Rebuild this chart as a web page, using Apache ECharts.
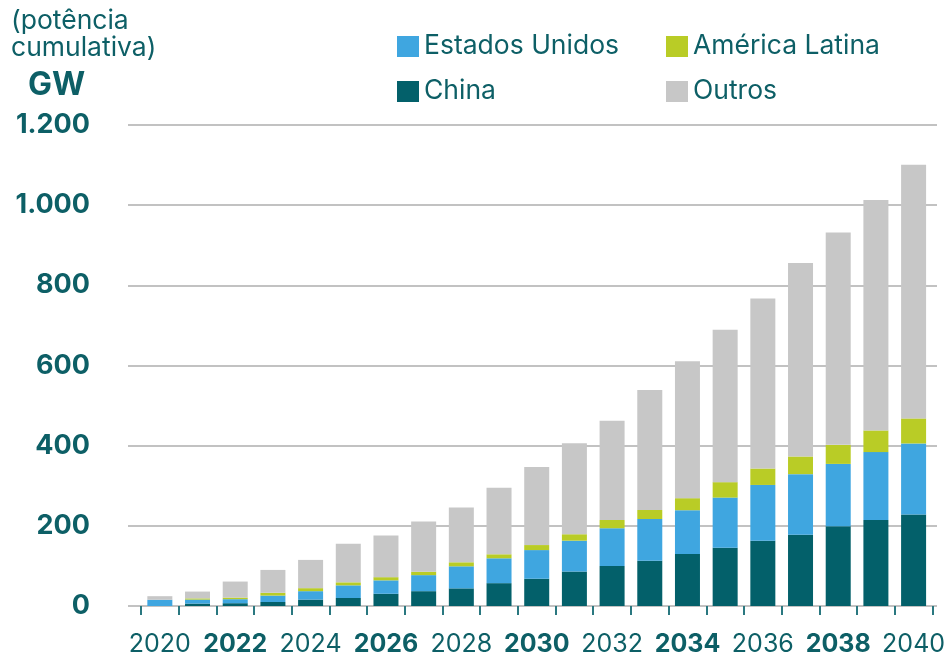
<!DOCTYPE html>
<html>
<head>
<meta charset="utf-8">
<script src="https://cdn.jsdelivr.net/npm/echarts@6/dist/echarts.min.js"></script>
<style>
  html, body { margin: 0; padding: 0; background: #fff; }
  #chart { width: 948px; height: 658px; }
</style>
</head>
<body>
<div id="chart"></div>
<script>
// Offshore wind capacity, cumulative GW, by region
const years = ['2020','2021','2022','2023','2024','2025','2026','2027','2028','2029','2030',
               '2031','2032','2033','2034','2035','2036','2037','2038','2039','2040'];
const china   = [0, 6, 7, 10, 16, 20, 30.5, 37, 44, 57, 68, 86, 99.5, 113, 129.5, 145.5, 163, 178, 199, 214.5, 228];
const eua     = [15.5, 10, 10, 16, 21, 31.5, 33.5, 40, 55, 62, 71.5, 77, 94.5, 104, 109.5, 125, 139, 151, 155.5, 169.5, 177.5];
const latam   = [0, 3, 4, 7, 7.5, 7.5, 8, 8.5, 10, 10, 12.5, 16, 20.5, 22.5, 30, 38.5, 41, 44, 47.5, 54, 62.5];
const outros  = [9, 17, 40, 57, 70.5, 96.5, 104, 125, 137, 166, 195, 227, 247.5, 299.5, 341.5, 380, 424, 482.5, 530, 575, 633];
const yTicks  = { min: 0, max: 1200, interval: 200 };

const TEAL_TEXT = '#0d5f66';
const FONT = 'Inter';
const COLORS = {
  'Estados Unidos': '#3fa6e0',
  'América Latina': '#b9cc26',
  'China': '#03606a',
  'Outros': '#c7c7c7'
};

const fmtThousands = v => String(v).replace(/\B(?=(\d{3})+(?!\d))/g, '.');

const chart = echarts.init(document.getElementById('chart'), null, { renderer: 'canvas' });

function barSeries(name, data) {
  return {
    name, type: 'bar', stack: 'total', data,
    xAxisIndex: 0, yAxisIndex: 0,
    barWidth: 25,
    itemStyle: { color: COLORS[name] },
    emphasis: { disabled: true }
  };
}

const legendBase = {
  orient: 'vertical', padding: 0, icon: 'rect',
  itemWidth: 22, itemHeight: 21, itemGap: 18,
  selectedMode: false,
  textStyle: { fontFamily: FONT, fontSize: 26.5, color: TEAL_TEXT, lineHeight: 21 }
};

chart.setOption({
  animation: false,
  backgroundColor: '#fff',
  title: [
    {
      text: '(potência\ncumulativa)', left: 11, top: 8, padding: 0,
      textStyle: { fontFamily: FONT, fontSize: 26.5, fontWeight: 'normal', color: TEAL_TEXT, lineHeight: 27 }
    },
    {
      text: 'GW', left: 28, top: 69, padding: 0,
      textStyle: { fontFamily: FONT, fontSize: 32, fontWeight: 'bold', color: TEAL_TEXT, lineHeight: 32 }
    }
  ],
  legend: [
    Object.assign({}, legendBase, { left: 397, top: 33, data: ['Estados Unidos', 'China'] }),
    Object.assign({}, legendBase, { left: 666, top: 33, data: ['América Latina', 'Outros'] })
  ],
  grid: [
    { left: 141, right: 13, top: 125, bottom: 52, containLabel: false },
    { left: 128, right: 11, top: 125, bottom: 52, containLabel: false }
  ],
  xAxis: [
    {
      type: 'category', data: years, gridIndex: 0, offset: 2,
      boundaryGap: true,
      axisLine: { show: false },
      axisTick: { show: true, interval: 0, length: 9, lineStyle: { color: '#2a7880', width: 2 } },
      axisLabel: {
        interval: 1, margin: 24,
        formatter: (v, i) => (i % 4 === 2 ? '{b|' + v + '}' : '{n|' + v + '}'),
        rich: {
          n: { fontFamily: FONT, fontSize: 25, fontWeight: 'normal', color: TEAL_TEXT },
          b: { fontFamily: FONT, fontSize: 25, fontWeight: 'bold', color: TEAL_TEXT }
        }
      },
      splitLine: { show: false }
    },
    { type: 'value', gridIndex: 1, show: false, min: 0, max: 1 }
  ],
  yAxis: [
    {
      type: 'value', gridIndex: 0, min: yTicks.min, max: yTicks.max, interval: yTicks.interval,
      show: false, splitLine: { show: false }
    },
    {
      type: 'value', gridIndex: 1, min: yTicks.min, max: yTicks.max, interval: yTicks.interval,
      axisLine: { show: false }, axisTick: { show: false },
      splitLine: { show: true, lineStyle: { color: '#c2c2c2', width: 2 } },
      axisLabel: {
        margin: 38, formatter: v => fmtThousands(v),
        fontFamily: FONT, fontSize: 27, fontWeight: 'bold', color: TEAL_TEXT
      }
    }
  ],
  series: [
    barSeries('China', china),
    barSeries('Estados Unidos', eua),
    barSeries('América Latina', latam),
    barSeries('Outros', outros)
  ]
});
</script>
</body>
</html>
